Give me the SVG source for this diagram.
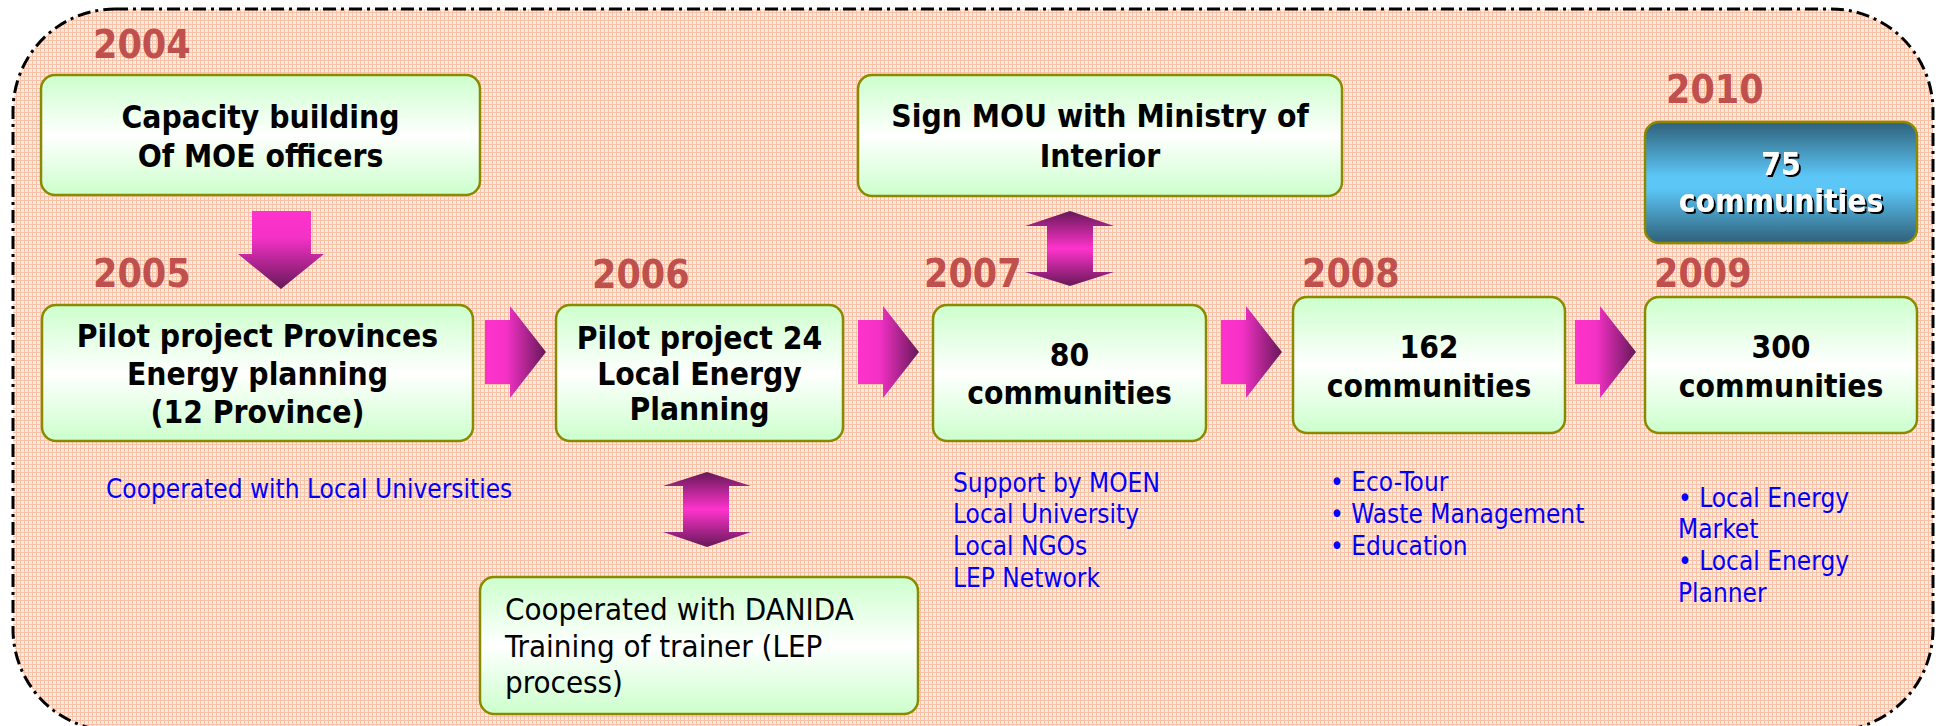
<svg xmlns="http://www.w3.org/2000/svg" width="1936" height="726" viewBox="0 0 1936 726">
  <defs>
    <!-- fine peach grid used as the panel fill -->
    <pattern id="grid" patternUnits="userSpaceOnUse" x="0" y="0" width="4" height="4">
      <rect width="4" height="4" fill="#feeae0"/>
      <rect width="4" height="1" fill="#f9c2a6"/>
      <rect width="1" height="4" fill="#f9c2a6"/>
    </pattern>
    <linearGradient id="gBox" x1="0" y1="0" x2="0" y2="1">
      <stop offset="0" stop-color="#ccffcc"/>
      <stop offset="0.5" stop-color="#ffffff"/>
      <stop offset="1" stop-color="#ccffcc"/>
    </linearGradient>
    <linearGradient id="gBlue" x1="0" y1="0" x2="0" y2="1">
      <stop offset="0" stop-color="#2f6079"/>
      <stop offset="0.45" stop-color="#5cc6f7"/>
      <stop offset="0.55" stop-color="#5cc6f7"/>
      <stop offset="1" stop-color="#2f6079"/>
    </linearGradient>
    <linearGradient id="gRight" x1="0" y1="0" x2="1" y2="0">
      <stop offset="0" stop-color="#ff33cc"/>
      <stop offset="0.35" stop-color="#f431c6"/>
      <stop offset="1" stop-color="#661858"/>
    </linearGradient>
    <linearGradient id="gDown" x1="0" y1="0" x2="0" y2="1">
      <stop offset="0" stop-color="#ff33cc"/>
      <stop offset="0.35" stop-color="#f431c6"/>
      <stop offset="1" stop-color="#661858"/>
    </linearGradient>
    <linearGradient id="gBoth" x1="0" y1="0" x2="0" y2="1">
      <stop offset="0" stop-color="#661858"/>
      <stop offset="0.5" stop-color="#ff33cc"/>
      <stop offset="1" stop-color="#661858"/>
    </linearGradient>
    <filter id="shadow" x="-10%" y="-10%" width="120%" height="130%">
      <feDropShadow dx="2" dy="2" stdDeviation="0" flood-color="#000000" flood-opacity="1"/>
    </filter>
    <path id="rightArrow" d="M0,14 H25 V0 L61,46 L25,92 V78 H0 Z"/>
    <style>
      .box { fill: url(#gBox); stroke: #8a8a00; stroke-width: 2.5; }
      .boxBlue { fill: url(#gBlue); stroke: #8a8a00; stroke-width: 2.5; }
      .year { font-family: "DejaVu Sans Condensed", "DejaVu Sans", sans-serif; font-stretch: condensed; font-weight: bold; font-size: 39px; fill: #c0504d; }
      .bold { font-family: "DejaVu Sans Condensed", "DejaVu Sans", sans-serif; font-stretch: condensed; font-weight: bold; font-size: 31.5px; fill: #000000; text-anchor: middle; }
      .white { fill: #ffffff; filter: url(#shadow); }
      .plain { font-family: "DejaVu Sans Condensed", "DejaVu Sans", sans-serif; font-stretch: condensed; font-size: 31px; fill: #000000; }
      .note { font-family: "DejaVu Sans Condensed", "DejaVu Sans", sans-serif; font-stretch: condensed; font-size: 26px; fill: #0000ff; }
      .r { fill: url(#gRight); }
      .d { fill: url(#gDown); }
      .b { fill: url(#gBoth); }
    </style>
  </defs>

  <!-- panel; its bottom edge runs just below the visible area -->
  <rect x="13" y="9" width="1920" height="722" rx="102" ry="102" fill="url(#grid)" stroke="#000000" stroke-width="3" stroke-dasharray="13 5 3 5"/>

  <g id="connectors">
    <path class="d" d="M252,211 H311 V254 H324 L281,289 L238,254 H252 Z"/>
    <use href="#rightArrow" class="r" x="485" y="306"/>
    <use href="#rightArrow" class="r" x="858" y="306"/>
    <use href="#rightArrow" class="r" x="1221" y="306"/>
    <use href="#rightArrow" class="r" x="1575" y="306"/>
    <path class="b" d="M1070,211 L1114,226 H1093 V272 H1114 L1070,286 L1025,272 H1047 V226 H1025 Z"/>
    <path class="b" d="M707,472 L751,486 H729 V532 H751 L707,547 L663,532 H683 V486 H663 Z"/>
  </g>

  <g id="node-2004">
    <text class="year" x="93" y="58">2004</text>
    <rect class="box" x="41" y="75" width="439" height="120" rx="14"/>
    <text class="bold" x="260.5" y="128">Capacity building</text>
    <text class="bold" x="260.5" y="167">Of MOE officers</text>
  </g>

  <g id="node-2005">
    <text class="year" x="93" y="287">2005</text>
    <rect class="box" x="42" y="305" width="431" height="136" rx="14"/>
    <text class="bold" x="257.5" y="347">Pilot project Provinces</text>
    <text class="bold" x="257.5" y="385">Energy planning</text>
    <text class="bold" x="257.5" y="423">(12 Province)</text>
    <text class="note" x="106" y="498">Cooperated with Local Universities</text>
  </g>

  <g id="node-2006">
    <text class="year" x="592" y="288">2006</text>
    <rect class="box" x="556" y="305" width="287" height="136" rx="14"/>
    <text class="bold" x="699.5" y="349">Pilot project 24</text>
    <text class="bold" x="699.5" y="385">Local Energy</text>
    <text class="bold" x="699.5" y="420">Planning</text>
  </g>

  <g id="node-danida">
    <rect class="box" x="480" y="577" width="438" height="137" rx="14"/>
    <text class="plain" x="505" y="620">Cooperated with DANIDA</text>
    <text class="plain" x="505" y="657">Training of trainer (LEP</text>
    <text class="plain" x="505" y="693">process)</text>
  </g>

  <g id="node-mou">
    <rect class="box" x="858" y="75" width="484" height="121" rx="14"/>
    <text class="bold" x="1100" y="127">Sign MOU with Ministry of</text>
    <text class="bold" x="1100" y="167">Interior</text>
  </g>

  <g id="node-2007">
    <text class="year" x="924" y="287">2007</text>
    <rect class="box" x="933" y="305" width="273" height="136" rx="14"/>
    <text class="bold" x="1069.5" y="366">80</text>
    <text class="bold" x="1069.5" y="404">communities</text>
    <text class="note" x="953" y="492">Support by MOEN</text>
    <text class="note" x="953" y="523">Local University</text>
    <text class="note" x="953" y="555">Local NGOs</text>
    <text class="note" x="953" y="587">LEP Network</text>
  </g>

  <g id="node-2008">
    <text class="year" x="1302" y="287">2008</text>
    <rect class="box" x="1293" y="297" width="272" height="136" rx="14"/>
    <text class="bold" x="1429" y="358">162</text>
    <text class="bold" x="1429" y="397">communities</text>
    <text class="note" x="1330" y="491">• Eco-Tour</text>
    <text class="note" x="1330" y="523">• Waste Management</text>
    <text class="note" x="1330" y="555">• Education</text>
  </g>

  <g id="node-2009">
    <text class="year" x="1654" y="287">2009</text>
    <rect class="box" x="1645" y="297" width="272" height="136" rx="14"/>
    <text class="bold" x="1781" y="358">300</text>
    <text class="bold" x="1781" y="397">communities</text>
    <text class="note" x="1678" y="507">• Local Energy</text>
    <text class="note" x="1678" y="538">Market</text>
    <text class="note" x="1678" y="570">• Local Energy</text>
    <text class="note" x="1678" y="602">Planner</text>
  </g>

  <g id="node-2010">
    <text class="year" x="1666" y="103">2010</text>
    <rect class="boxBlue" x="1645" y="122" width="272" height="121" rx="14"/>
    <text class="bold white" x="1781" y="175">75</text>
    <text class="bold white" x="1781" y="212">communities</text>
  </g>
</svg>
